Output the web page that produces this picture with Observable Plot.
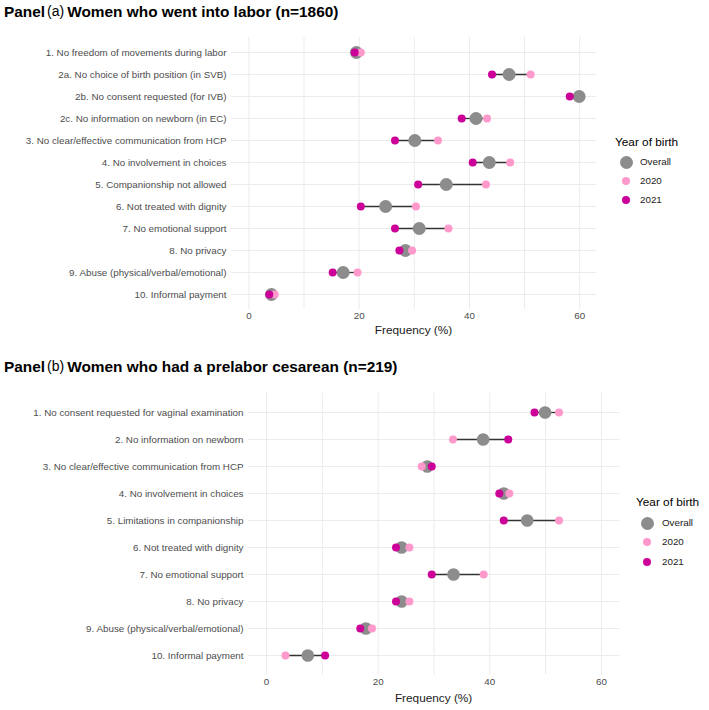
<!DOCTYPE html>
<html>
<head>
<meta charset="utf-8">
<script src="https://cdn.jsdelivr.net/npm/d3@7"></script>
<script src="https://cdn.jsdelivr.net/npm/@observablehq/plot@0.6"></script>
<style>
  body { margin:0; background:#fff; font-family:"Liberation Sans", Arial, sans-serif; }
  #root { position:relative; width:709px; height:710px; overflow:hidden; }
  .abs { position:absolute; }
  .title { font-weight:bold; font-size:15.4px; color:#000; white-space:nowrap; line-height:18px; }
  .title .tag { font-weight:normal; font-size:14px; position:relative; top:-1px; margin:0 3px 0 2px; }
  .xtitle { font-size:11.8px; color:#1a1a1a; text-align:center; white-space:nowrap; line-height:14px; }
  .legtitle { font-size:11.8px; color:#000; white-space:nowrap; line-height:14px; }
  .legtext { font-size:9.8px; color:#1a1a1a; white-space:nowrap; line-height:12px; }
  .dot { position:absolute; border-radius:50%; }
</style>
</head>
<body>
<div id="root"></div>
<script>
// ---------- DATA ----------
const labelsA = [
  "1. No freedom of movements during labor",
  "2a. No choice of birth position (in SVB)",
  "2b. No consent requested (for IVB)",
  "2c. No information on newborn (in EC)",
  "3. No clear/effective communication from HCP",
  "4. No involvement in choices",
  "5. Companionship not allowed",
  "6. Not treated with dignity",
  "7. No emotional support",
  "8. No privacy",
  "9. Abuse (physical/verbal/emotional)",
  "10. Informal payment"
];
const overallA = [19.5, 47.2, 59.9, 41.2, 30.1, 43.6, 35.8, 24.8, 30.9, 28.4, 17.1, 4.1];
const y2020A   = [20.3, 51.1, null, 43.2, 34.3, 47.4, 43.0, 30.3, 36.2, 29.6, 19.7, 4.7];
const y2021A   = [19.2, 44.1, 58.2, 38.6, 26.5, 40.6, 30.7, 20.3, 26.5, 27.3, 15.2, 3.7];

const labelsB = [
  "1. No consent requested for vaginal examination",
  "2. No information on newborn",
  "3. No clear/effective communication from HCP",
  "4. No involvement in choices",
  "5. Limitations in companionship",
  "6. Not treated with dignity",
  "7. No emotional support",
  "8. No privacy",
  "9. Abuse (physical/verbal/emotional)",
  "10. Informal payment"
];
const overallB = [49.9, 38.8, 28.8, 42.5, 46.7, 24.2, 33.5, 24.2, 17.8, 7.4];
const y2020B   = [52.4, 33.4, 27.8, 43.5, 52.4, 25.6, 38.9, 25.6, 18.9, 3.4];
const y2021B   = [48.0, 43.3, 29.6, 41.7, 42.5, 23.2, 29.6, 23.2, 16.8, 10.5];

const xTicks = [0, 20, 40, 60];
const xGrid = [0, 10, 20, 30, 40, 50, 60];
const legendItems = ["Overall", "2020", "2021"];
const titleA = ["Panel", "(a)", "Women who went into labor (n=1860)"];
const titleB = ["Panel", "(b)", "Women who had a prelabor cesarean (n=219)"];
const xLabel = "Frequency (%)";

const COL = {Overall:"#8c8c8c", "2020":"#ff99cc", "2021":"#cc0099"};

// ---------- BUILD ----------
const root = document.getElementById("root");

function rowsOf(labels, ov, a, b) {
  return labels.map((l, i) => ({label:l, overall:ov[i], y2020:a[i], y2021:b[i]}));
}

function makePlot(rows, labels, opt) {
  const segs = rows.filter(d => d.y2020 != null && d.y2021 != null);
  return Plot.plot({
    width: opt.width, height: opt.height,
    marginLeft: opt.ml, marginRight: opt.mr, marginTop: opt.mt, marginBottom: opt.mb,
    style: {fontFamily:'"Liberation Sans", Arial, sans-serif', fontSize:"9.8px", background:"transparent"},
    x: {domain: opt.xdom},
    y: {type:"point", domain: labels, padding: 0.6},
    marks: [
      Plot.ruleX(xGrid, {stroke:"#ebebeb", strokeWidth:1}),
      Plot.ruleY(labels, {stroke:"#ebebeb", strokeWidth:1}),
      Plot.ruleY(segs, {y:"label", x1:"y2020", x2:"y2021", stroke:"#333333", strokeWidth:1.3}),
      Plot.dot(rows, {x:"overall", y:"label", r:opt.rBig, fill:COL.Overall}),
      Plot.dot(rows.filter(d => d.y2020 != null), {x:"y2020", y:"label", r:opt.rSmall, fill:COL["2020"]}),
      Plot.dot(rows.filter(d => d.y2021 != null), {x:"y2021", y:"label", r:opt.rSmall, fill:COL["2021"]}),
      Plot.axisX({ticks: xTicks, tickSize:0, tickPadding:3, label:null, fill:"#4d4d4d"}),
      Plot.axisY({tickSize:0, tickPadding:5, label:null, fill:"#4d4d4d"})
    ]
  });
}

function addTitle(parts, top) {
  const d = document.createElement("div");
  d.className = "abs title";
  d.style.left = "4px"; d.style.top = top + "px";
  d.innerHTML = parts[0] + '<span class="tag">' + parts[1] + '</span>' + parts[2];
  root.appendChild(d);
}

function addLegend(x, yTitle, ys, textX) {
  const t = document.createElement("div");
  t.className = "abs legtitle";
  t.style.left = (x - 11) + "px"; t.style.top = (yTitle - 7) + "px";
  t.textContent = "Year of birth";
  root.appendChild(t);
  legendItems.forEach((k, i) => {
    const r = k === "Overall" ? 6.5 : 4;
    const c = document.createElement("div");
    c.className = "dot";
    c.style.width = c.style.height = (2*r) + "px";
    c.style.left = (x - r) + "px"; c.style.top = (ys[i] - r) + "px";
    c.style.background = COL[k];
    root.appendChild(c);
    const s = document.createElement("div");
    s.className = "abs legtext";
    s.style.left = textX + "px"; s.style.top = (ys[i] - 6) + "px";
    s.textContent = k;
    root.appendChild(s);
  });
}

function addXTitle(cx, top) {
  const d = document.createElement("div");
  d.className = "abs xtitle";
  d.style.left = (cx - 60) + "px"; d.style.width = "120px"; d.style.top = top + "px";
  d.textContent = xLabel;
  root.appendChild(d);
}

// Panel (a)
addTitle(titleA, 3);
const pa = makePlot(rowsOf(labelsA, overallA, y2020A, y2021A), labelsA,
  {width:600, height:299, ml:231, mr:4, mt:7, mb:20, xdom:[-3.15, 63.05], rBig:6.5, rSmall:4});
const wa = document.createElement("div"); wa.className = "abs"; wa.style.left = "0px"; wa.style.top = "30px";
wa.appendChild(pa); root.appendChild(wa);
addXTitle(413.5, 323);
addLegend(626, 141.7, [162.3, 181, 200.3], 640);

// Panel (b)
addTitle(titleB, 358);
const pb = makePlot(rowsOf(labelsB, overallB, y2020B, y2021B), labelsB,
  {width:623, height:310, ml:248, mr:3.7, mt:7.7, mb:20.4, xdom:[-3.22, 63.28], rBig:6.3, rSmall:4});
const wb = document.createElement("div"); wb.className = "abs"; wb.style.left = "0px"; wb.style.top = "385px";
wb.appendChild(pb); root.appendChild(wb);
addXTitle(433.6, 691);
addLegend(647, 501.7, [523.3, 542, 561.7], 662);
</script>
</body>
</html>
